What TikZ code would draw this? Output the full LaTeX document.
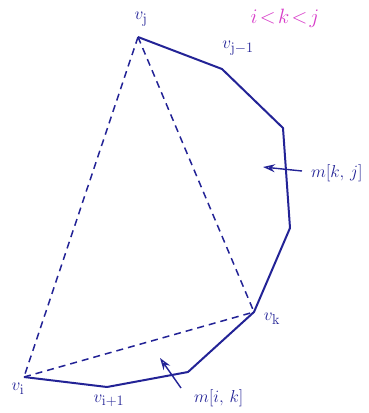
\documentclass[tikz,border=0pt]{standalone}
\usetikzlibrary{arrows.meta}
\definecolor{pblue}{RGB}{35,35,150}
\definecolor{pmag}{RGB}{215,60,200}
\begin{document}
\begin{tikzpicture}[x=1pt,y=-1pt,
  edge/.style={pblue,line width=2pt,line join=round},
  chord/.style={pblue,line width=1.5pt,dash pattern=on 7pt off 5pt},
  lab/.style={pblue,font=\fontsize{19}{23}\selectfont,inner sep=0pt},
  ptr/.style={pblue,line width=1.4pt,-{Stealth[length=12pt,width=8pt,open]}}]
\useasboundingbox (0,0) rectangle (369,413);
\coordinate (vj) at (138,37);
\coordinate (vjm) at (222,69);
\coordinate (a) at (283,128);
\coordinate (b) at (290,228);
\coordinate (vk) at (254,312);
\coordinate (c) at (188,372);
\coordinate (vip) at (107,387);
\coordinate (vi) at (24,377);
\draw[edge] (vj) -- (vjm) -- (a) -- (b) -- (vk) -- (c) -- (vip) -- (vi);
\draw[chord] (vj) -- (vi);
\draw[chord] (vj) -- (vk);
\draw[chord] (vi) -- (vk);
\node[lab] (lj) at (141,19) {$v_{\mathrm{j}}$};
\node[lab] (ljm) at (238,48) {$v_{\mathrm{j-1}}$};
\node[lab] (lk) at (272,319) {$v_{\mathrm{k}}$};
\node[lab] (li) at (18,389) {$v_{\mathrm{i}}$};
\node[lab] (lip) at (109,401) {$v_{\mathrm{i+1}}$};
\node[pmag,font=\fontsize{22}{26}\selectfont,inner sep=0pt] (cond) at (285,18) {$i\!<\!k\!<\!j$};
\node[lab,anchor=west] (mkj) at (311,173) {$m[k,\,j]$};
\node[lab,anchor=west] (mik) at (194,398) {$m[i,\,k]$};
\coordinate (mkjs) at (302,171);
\coordinate (mkjt) at (263,167);
\coordinate (miks) at (181,388);
\coordinate (mikt) at (160,358);
\draw[ptr] (mkjs) -- (mkjt);
\draw[ptr] (miks) -- (mikt);
\end{tikzpicture}
\end{document}
